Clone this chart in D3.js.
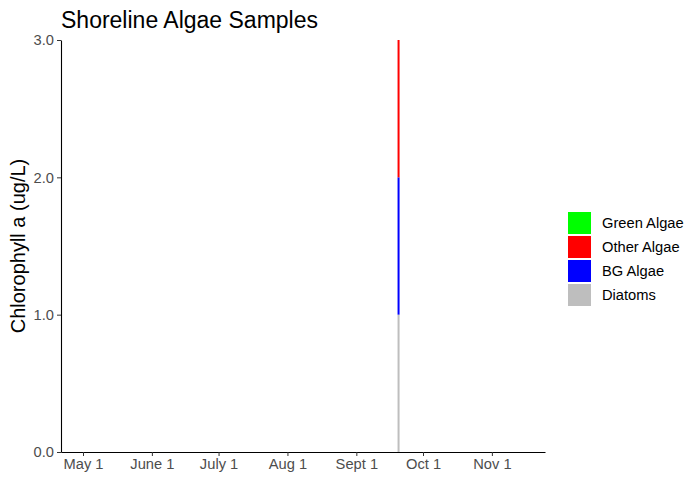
<!DOCTYPE html>
<html>
<head>
<meta charset="utf-8">
<script src="https://cdn.jsdelivr.net/npm/d3@7"></script>
<style>
  body { margin: 0; background: #fff; }
  text { font-family: "Liberation Sans", Arial, sans-serif; }
</style>
</head>
<body>
<svg id="chart" width="688" height="477"></svg>
<script>
// sample data
const sampleDates = ["2019-09-20"];
const diatoms = [1.0];
const bgAlgae = [1.0];
const otherAlgae = [1.0];
const greenAlgae = [0.0];

const groups = ["Diatoms", "BG Algae", "Other Algae", "Green Algae"];
const groupColors = ["#bebebe", "#0000ff", "#ff0000", "#00ff00"];
const legendOrder = ["Green Algae", "Other Algae", "BG Algae", "Diatoms"];

const xLimits = ["2019-05-01", "2019-11-15"];
const xTickDates = ["2019-05-01", "2019-06-01", "2019-07-01", "2019-08-01", "2019-09-01", "2019-10-01", "2019-11-01"];
const xTickLabels = ["May 1", "June 1", "July 1", "Aug 1", "Sept 1", "Oct 1", "Nov 1"];
const yTicks = [0, 1, 2, 3];

const parse = d3.timeParse("%Y-%m-%d");
const DAY = 864e5;

const records = sampleDates.map((d, i) => ({
  date: parse(d),
  "Diatoms": diatoms[i],
  "BG Algae": bgAlgae[i],
  "Other Algae": otherAlgae[i],
  "Green Algae": greenAlgae[i]
}));

const svg = d3.select("#chart");
const margin = {left: 61, right: 143, top: 40, bottom: 25};
const width = +svg.attr("width");
const height = +svg.attr("height");

// ggplot style 5% expansion on the date axis
const lo = parse(xLimits[0]).getTime(), hi = parse(xLimits[1]).getTime();
const pad = (hi - lo) * 0.05;
const x = d3.scaleTime()
  .domain([new Date(lo - pad), new Date(hi + pad)])
  .range([margin.left, width - margin.right]);

const y = d3.scaleLinear()
  .domain([0, 3])
  .range([height - margin.bottom, margin.top]);

const color = d3.scaleOrdinal().domain(groups).range(groupColors);

const stacked = d3.stack().keys(groups)(records);

svg.append("g")
  .selectAll("g")
  .data(stacked)
  .join("g")
    .attr("fill", d => color(d.key))
  .selectAll("rect")
  .data(d => d)
  .join("rect")
    .attr("x", d => x(new Date(d.data.date.getTime() - 0.45 * DAY)))
    .attr("width", d => x(new Date(d.data.date.getTime() + 0.45 * DAY)) - x(new Date(d.data.date.getTime() - 0.45 * DAY)))
    .attr("y", d => y(d[1]))
    .attr("height", d => y(d[0]) - y(d[1]));

// x axis
const xAxis = svg.append("g")
  .attr("transform", `translate(0,${height - margin.bottom})`)
  .call(d3.axisBottom(x)
    .tickValues(xTickDates.map(parse))
    .tickFormat((d, i) => xTickLabels[i])
    .tickSize(4).tickPadding(3).tickSizeOuter(0));

// y axis
const yAxis = svg.append("g")
  .attr("transform", `translate(${margin.left},0)`)
  .call(d3.axisLeft(y)
    .tickValues(yTicks)
    .tickFormat(d3.format(".1f"))
    .tickSize(4).tickPadding(3).tickSizeOuter(0));

[xAxis, yAxis].forEach(a => {
  a.select(".domain").attr("stroke", "#000").attr("stroke-width", 1.1);
  a.selectAll(".tick line").attr("stroke", "#333");
  a.selectAll(".tick text")
    .attr("fill", "#4d4d4d")
    .style("font-size", "14.7px")
    .style("font-family", "'Liberation Sans', Arial, sans-serif");
});

// title
svg.append("text")
  .attr("x", margin.left)
  .attr("y", 28)
  .style("font-size", "23px")
  .text("Shoreline Algae Samples");

// y axis title
svg.append("text")
  .attr("transform", `translate(25,${(margin.top + height - margin.bottom) / 2}) rotate(-90)`)
  .attr("text-anchor", "middle")
  .style("font-size", "20px")
  .text("Chlorophyll a (ug/L)");

// legend
const legend = svg.append("g").attr("transform", "translate(568,212)");
const item = legend.selectAll("g")
  .data(legendOrder)
  .join("g")
    .attr("transform", (d, i) => `translate(0,${i * 24})`);
item.append("rect")
  .attr("width", 23)
  .attr("height", 22)
  .attr("fill", d => color(d));
item.append("text")
  .attr("x", 34)
  .attr("y", 11)
  .attr("dy", "0.35em")
  .style("font-size", "14.7px")
  .text(d => d);
</script>
</body>
</html>
